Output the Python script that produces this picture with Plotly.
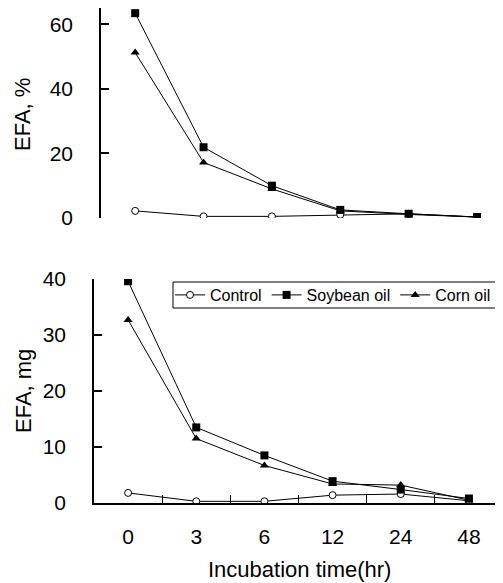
import plotly.graph_objects as go

times = ["0", "3", "6", "12", "24", "48"]

pct_control = [2.2, 0.5, 0.5, 1.0, 1.3, 0.3]
pct_soybean = [63.4, 21.9, 10.0, 2.5, 1.3, 0.3]
pct_corn = [51.2, 17.2, 9.0, 2.2, 1.1, 0.3]

mg_control = [1.8, 0.3, 0.3, 1.4, 1.6, 0.4]
mg_soybean = [39.6, 13.5, 8.5, 3.9, 2.4, 0.8]
mg_corn = [32.7, 11.5, 6.7, 3.4, 3.2, 0.5]

# page body has an 8px default margin, so the figure is offset by 8px
OFF = 8
W, H = 503 - OFF, 583 - OFF
FONT = "Liberation Sans, Arial, sans-serif"

series = [
    ("Control", pct_control, mg_control, dict(symbol="circle", size=7, color="white", line=dict(color="black", width=1))),
    ("Soybean oil", pct_soybean, mg_soybean, dict(symbol="square", size=8, color="black", line=dict(color="black", width=0))),
    ("Corn oil", pct_corn, mg_corn, dict(symbol="triangle-up", size=8, color="black", line=dict(color="black", width=0))),
]

fig = go.Figure()
for name, top_vals, bot_vals, mk in series:
    fig.add_trace(go.Scatter(x=times, y=top_vals, mode="lines+markers", name=name,
                             line=dict(color="black", width=1), marker=mk,
                             xaxis="x", yaxis="y", showlegend=False))
    fig.add_trace(go.Scatter(x=times, y=bot_vals, mode="lines+markers", name=name,
                             line=dict(color="black", width=1), marker=mk,
                             xaxis="x2", yaxis="y2", showlegend=True))

def px_x(p):
    return (p - OFF) / W

def px_y(p):
    return 1 - (p - OFF) / H

fig.update_layout(
    width=W, height=H,
    margin=dict(l=0, r=0, t=0, b=0, autoexpand=False),
    paper_bgcolor="white", plot_bgcolor="white",
    font=dict(family=FONT, color="black", size=21),
    xaxis=dict(domain=[px_x(101), 1], anchor="y", type="category", range=[-0.5, 5.38],
               showline=False, showticklabels=False, ticks="", showgrid=False, zeroline=False,
               automargin=False),
    yaxis=dict(domain=[px_y(218), px_y(8)], anchor="x", range=[0, 65],
               tickvals=[0, 20, 40, 60], showline=True, linecolor="black", linewidth=1.5,
               ticks="inside", ticklen=8, tickcolor="black", tickwidth=1.5,
               showgrid=False, zeroline=False, ticklabelstandoff=22, automargin=False,
               tickfont=dict(size=21)),
    xaxis2=dict(domain=[px_x(94), 1], anchor="y2", type="category", range=[-0.5, 5.5],
                showline=True, linecolor="black", linewidth=1.5,
                ticks="inside", ticklen=8, tickcolor="black", tickwidth=1,
                tickson="boundaries", showgrid=False, zeroline=False, automargin=False,
                ticklabelstandoff=14, tickfont=dict(size=21)),
    yaxis2=dict(domain=[px_y(503), px_y(279)], anchor="x2", range=[0, 40],
                tickvals=[0, 10, 20, 30, 40], showline=True, linecolor="black", linewidth=1.5,
                ticks="inside", ticklen=8, tickcolor="black", tickwidth=1.5,
                showgrid=False, zeroline=False, ticklabelstandoff=22, automargin=False,
                tickfont=dict(size=21)),
    legend=dict(orientation="h", x=px_x(170), xanchor="left", y=px_y(295), yanchor="middle",
                borderwidth=0, bgcolor="rgba(0,0,0,0)",
                font=dict(size=16, family=FONT), itemwidth=30, tracegroupgap=0),
    shapes=[
        dict(type="rect", xref="paper", yref="paper",
             x0=px_x(173), x1=px_x(515), y0=px_y(308), y1=px_y(282),
             line=dict(color="black", width=1), fillcolor="white", layer="above"),
    ],
    annotations=[
        dict(text="EFA, %", x=px_x(22), y=px_y(115), xref="paper", yref="paper",
             xanchor="center", yanchor="middle",
             textangle=-90, showarrow=False, font=dict(size=22)),
        dict(text="EFA, mg", x=px_x(23), y=px_y(391), xref="paper", yref="paper",
             xanchor="center", yanchor="middle",
             textangle=-90, showarrow=False, font=dict(size=22)),
        dict(text="Incubation time(hr)", x=px_x(299), y=px_y(569), xref="paper", yref="paper",
             xanchor="center", yanchor="middle",
             showarrow=False, font=dict(size=22)),
    ],
)

fig.write_html("out.html")
